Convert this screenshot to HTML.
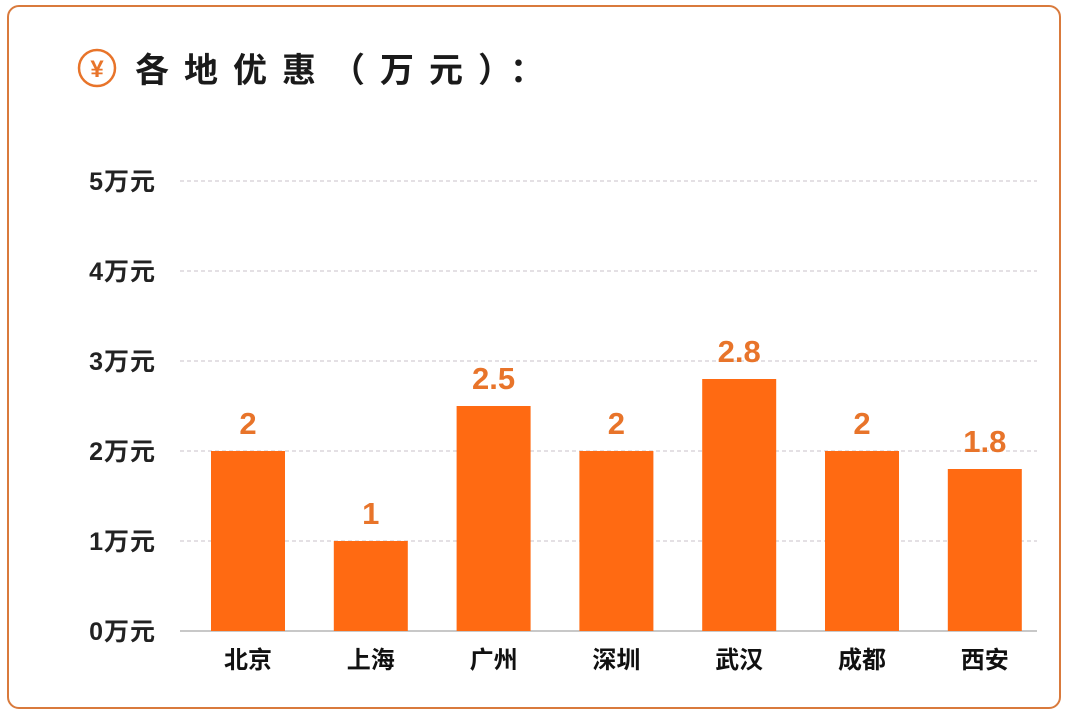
<!DOCTYPE html>
<html><head><meta charset="utf-8">
<style>
html,body{margin:0;padding:0;background:#fff;}
body{width:1071px;height:718px;position:relative;overflow:hidden;font-family:"Liberation Sans","Noto Sans CJK SC",sans-serif;}
.frame{position:absolute;left:7px;top:5px;width:1054px;height:704px;border:2px solid #d97a3c;border-radius:12px;box-sizing:border-box;}
</style></head>
<body>
<div class="frame"></div>
<svg id="chart" width="1071" height="718" style="position:absolute;left:0;top:0">
  <g>
    <circle cx="97" cy="68" r="18" fill="none" stroke="#e8742a" stroke-width="2.5"/>
    <text x="97" y="77" text-anchor="middle" font-size="24" font-weight="bold" fill="#e8742a" font-family="Liberation Sans,Noto Sans CJK SC,sans-serif">¥</text>
    <text x="135" y="82" font-size="34" font-weight="bold" fill="#1a1a1a" letter-spacing="15" font-family="Liberation Sans,Noto Sans CJK SC,sans-serif">各地优惠（万元）：</text>
  </g>
</svg>
<script>
const categories = ["北京","上海","广州","深圳","武汉","成都","西安"];
const values = [2, 1, 2.5, 2, 2.8, 2, 1.8];
const valueLabels = ["2","1","2.5","2","2.8","2","1.8"];
const yTicks = [0,1,2,3,4,5];
const yTickLabels = ["0万元","1万元","2万元","3万元","4万元","5万元"];

const svg = document.getElementById('chart');
const NS = 'http://www.w3.org/2000/svg';
const y0 = 631, yUnit = 90, plotL = 180, plotR = 1037;
const firstC = 248, pitch = 122.8, barW = 74;
const y = v => y0 - v * yUnit;
const x = i => firstC + i * pitch;
function mk(tag, attrs){ const e = document.createElementNS(NS, tag); for (const k in attrs) e.setAttribute(k, attrs[k]); svg.appendChild(e); return e; }
const font = "Liberation Sans, Noto Sans CJK SC, sans-serif";

yTicks.forEach((t, i) => {
  const gl = mk('line', {x1: plotL, x2: plotR, y1: y(t), y2: y(t), stroke: t === 0 ? '#c8c8c8' : '#c9c0c8', 'stroke-width': t === 0 ? 2 : 1, 'stroke-dasharray': t === 0 ? '' : '4,3'});
  
  
  const tl = mk('text', {x: 156, y: y(t) + 9, 'text-anchor': 'end', 'font-size': 25, 'font-weight': 'bold', fill: '#222', 'letter-spacing': 1, 'font-family': font});
  tl.textContent = yTickLabels[i];
  
  
});

categories.forEach((c, i) => {
  const b = mk('rect', {x: x(i) - barW / 2, y: y(values[i]), width: barW, height: y0 - y(values[i]), fill: '#ff6a12'});
  
  
  const vl = mk('text', {x: x(i), y: y(values[i]) - 17, 'text-anchor': 'middle', 'font-size': 31, 'font-weight': 'bold', fill: '#e8742a', 'font-family': font});
  vl.textContent = valueLabels[i];
  
  
  const cl = mk('text', {x: x(i), y: 668, 'text-anchor': 'middle', 'font-size': 24, 'font-weight': 'bold', fill: '#111', 'font-family': font});
  cl.textContent = c;
  
  
});
</script>
</body></html>
